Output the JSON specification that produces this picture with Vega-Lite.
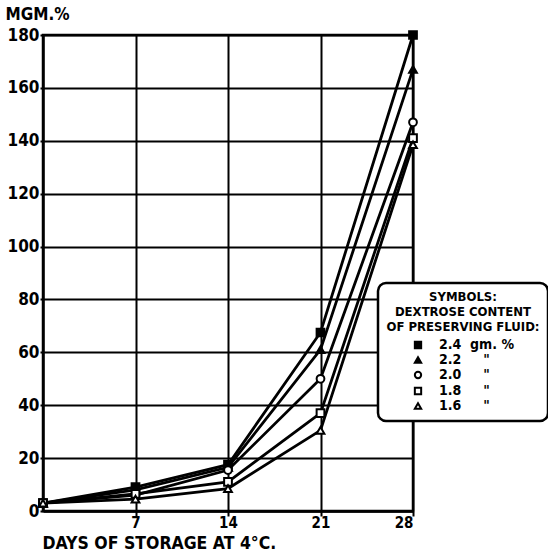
{
  "$schema": "https://vega.github.io/schema/vega-lite/v6.json",
  "width": 370,
  "height": 476,
  "autosize": "none",
  "padding": {"left": 43, "top": 35, "right": 135, "bottom": 41},
  "background": "white",
  "config": {
    "view": {"stroke": "black", "strokeWidth": 2.5},
    "font": "DejaVu Sans Condensed",
    "legend": {"strokeWidth": 2.5}
  },
  "data": {
    "values": [
      {"day": 0, "mgm": 3, "s": "2.4\u00a0\u00a0gm.\u00a0%"},
      {"day": 7, "mgm": 9, "s": "2.4\u00a0\u00a0gm.\u00a0%"},
      {"day": 14, "mgm": 17.5, "s": "2.4\u00a0\u00a0gm.\u00a0%"},
      {"day": 21, "mgm": 67.5, "s": "2.4\u00a0\u00a0gm.\u00a0%"},
      {"day": 28, "mgm": 180, "s": "2.4\u00a0\u00a0gm.\u00a0%"},
      {"day": 0, "mgm": 3, "s": "2.2\u00a0\u00a0\u00a0\u00a0\u00a0\""},
      {"day": 7, "mgm": 8, "s": "2.2\u00a0\u00a0\u00a0\u00a0\u00a0\""},
      {"day": 14, "mgm": 16.5, "s": "2.2\u00a0\u00a0\u00a0\u00a0\u00a0\""},
      {"day": 21, "mgm": 61, "s": "2.2\u00a0\u00a0\u00a0\u00a0\u00a0\""},
      {"day": 28, "mgm": 167, "s": "2.2\u00a0\u00a0\u00a0\u00a0\u00a0\""},
      {"day": 0, "mgm": 3, "s": "2.0\u00a0\u00a0\u00a0\u00a0\u00a0\""},
      {"day": 7, "mgm": 6, "s": "2.0\u00a0\u00a0\u00a0\u00a0\u00a0\""},
      {"day": 14, "mgm": 15.5, "s": "2.0\u00a0\u00a0\u00a0\u00a0\u00a0\""},
      {"day": 21, "mgm": 50, "s": "2.0\u00a0\u00a0\u00a0\u00a0\u00a0\""},
      {"day": 28, "mgm": 147, "s": "2.0\u00a0\u00a0\u00a0\u00a0\u00a0\""},
      {"day": 0, "mgm": 3, "s": "1.8\u00a0\u00a0\u00a0\u00a0\u00a0\""},
      {"day": 7, "mgm": 6.5, "s": "1.8\u00a0\u00a0\u00a0\u00a0\u00a0\""},
      {"day": 14, "mgm": 11, "s": "1.8\u00a0\u00a0\u00a0\u00a0\u00a0\""},
      {"day": 21, "mgm": 37, "s": "1.8\u00a0\u00a0\u00a0\u00a0\u00a0\""},
      {"day": 28, "mgm": 141, "s": "1.8\u00a0\u00a0\u00a0\u00a0\u00a0\""},
      {"day": 0, "mgm": 3, "s": "1.6\u00a0\u00a0\u00a0\u00a0\u00a0\""},
      {"day": 7, "mgm": 4.5, "s": "1.6\u00a0\u00a0\u00a0\u00a0\u00a0\""},
      {"day": 14, "mgm": 8.5, "s": "1.6\u00a0\u00a0\u00a0\u00a0\u00a0\""},
      {"day": 21, "mgm": 30.5, "s": "1.6\u00a0\u00a0\u00a0\u00a0\u00a0\""},
      {"day": 28, "mgm": 138.5, "s": "1.6\u00a0\u00a0\u00a0\u00a0\u00a0\""}
    ]
  },
  "encoding": {
    "x": {
      "field": "day", "type": "quantitative",
      "scale": {"domain": [0, 28], "nice": false, "zero": true},
      "axis": {
        "values": [7, 14, 21, 28],
        "title": "DAYS OF STORAGE AT 4°C.",
        "titleAnchor": "start", "titleAlign": "left", "titleX": -1, "titleY": 32,
        "titleBaseline": "middle",
        "titleFont": "DejaVu Sans Condensed", "titleFontSize": 17.5, "titleFontWeight": "bold", "titleColor": "black",
        "labelFont": "DejaVu Sans Condensed", "labelFontSize": 15, "labelFontWeight": "bold", "labelColor": "black",
        "domainColor": "black", "domainWidth": 2.5,
        "tickColor": "black", "tickWidth": 2, "tickSize": 5,
        "grid": true, "gridColor": "black", "gridWidth": 2, "gridOpacity": 1,
        "labelPadding": -1
      }
    },
    "y": {
      "field": "mgm", "type": "quantitative",
      "scale": {"domain": [0, 180], "nice": false},
      "axis": {
        "values": [0, 20, 40, 60, 80, 100, 120, 140, 160, 180],
        "title": "MGM.%",
        "titleAngle": 0, "titleAlign": "left", "titleAnchor": "start",
        "titleX": -38, "titleY": -21, "titleBaseline": "middle",
        "titleFont": "DejaVu Sans Condensed", "titleFontSize": 17, "titleFontWeight": "bold", "titleColor": "black",
        "labelFont": "DejaVu Sans Condensed", "labelFontSize": 17, "labelFontWeight": "bold", "labelColor": "black",
        "domainColor": "black", "domainWidth": 2.5,
        "tickColor": "black", "tickWidth": 2, "tickSize": 3,
        "grid": true, "gridColor": "black", "gridWidth": 2, "gridOpacity": 1,
        "labelPadding": 1
      }
    }
  },
  "layer": [
    {
      "mark": {"type": "line", "color": "black", "strokeWidth": 2.8},
      "encoding": {"detail": {"field": "s"}}
    },
    {
      "mark": {"type": "point", "size": 60, "opacity": 1, "filled": true, "strokeWidth": 2},
      "encoding": {
        "stroke": {
          "field": "s", "type": "nominal",
          "scale": {
            "domain": ["2.4\u00a0\u00a0gm.\u00a0%", "2.2\u00a0\u00a0\u00a0\u00a0\u00a0\"", "2.0\u00a0\u00a0\u00a0\u00a0\u00a0\"", "1.8\u00a0\u00a0\u00a0\u00a0\u00a0\"", "1.6\u00a0\u00a0\u00a0\u00a0\u00a0\""],
            "range": ["black", "black", "black", "black", "black"]
          },
          "legend": {
            "orient": "none", "legendX": 335, "legendY": 248,
            "title": ["SYMBOLS:", "DEXTROSE CONTENT", "OF PRESERVING FLUID:"],
            "titleAlign": "center", "titleAnchor": "middle",
            "titleFont": "DejaVu Sans Condensed", "titleFontSize": 13, "titleFontWeight": "bold", "titleColor": "black",
            "titleLineHeight": 15, "titlePadding": 4,
            "labelFont": "DejaVu Sans Condensed", "labelFontSize": 14, "labelFontWeight": "bold", "labelColor": "black",
            "strokeColor": "black", "cornerRadius": 8, "fillColor": "white",
            "padding": 8, "rowPadding": 0, "symbolSize": 40, "symbolStrokeWidth": 2,
            "labelOffset": 14, "offset": 0
          }
        },
        "shape": {
          "field": "s", "type": "nominal",
          "scale": {
            "domain": ["2.4\u00a0\u00a0gm.\u00a0%", "2.2\u00a0\u00a0\u00a0\u00a0\u00a0\"", "2.0\u00a0\u00a0\u00a0\u00a0\u00a0\"", "1.8\u00a0\u00a0\u00a0\u00a0\u00a0\"", "1.6\u00a0\u00a0\u00a0\u00a0\u00a0\""],
            "range": ["square", "triangle-up", "circle", "square", "triangle-up"]
          },
          "legend": {
            "orient": "none", "legendX": 335, "legendY": 248,
            "title": ["SYMBOLS:", "DEXTROSE CONTENT", "OF PRESERVING FLUID:"],
            "titleAlign": "center", "titleAnchor": "middle",
            "titleFont": "DejaVu Sans Condensed", "titleFontSize": 13, "titleFontWeight": "bold", "titleColor": "black",
            "titleLineHeight": 15, "titlePadding": 4,
            "labelFont": "DejaVu Sans Condensed", "labelFontSize": 14, "labelFontWeight": "bold", "labelColor": "black",
            "strokeColor": "black", "cornerRadius": 8, "fillColor": "white",
            "padding": 8, "rowPadding": 0, "symbolSize": 40, "symbolStrokeWidth": 2,
            "labelOffset": 14, "offset": 0
          }
        },
        "fill": {
          "field": "s", "type": "nominal",
          "scale": {
            "domain": ["2.4\u00a0\u00a0gm.\u00a0%", "2.2\u00a0\u00a0\u00a0\u00a0\u00a0\"", "2.0\u00a0\u00a0\u00a0\u00a0\u00a0\"", "1.8\u00a0\u00a0\u00a0\u00a0\u00a0\"", "1.6\u00a0\u00a0\u00a0\u00a0\u00a0\""],
            "range": ["black", "black", "white", "white", "white"]
          },
          "legend": {
            "orient": "none", "legendX": 335, "legendY": 248,
            "title": ["SYMBOLS:", "DEXTROSE CONTENT", "OF PRESERVING FLUID:"],
            "titleAlign": "center", "titleAnchor": "middle",
            "titleFont": "DejaVu Sans Condensed", "titleFontSize": 13, "titleFontWeight": "bold", "titleColor": "black",
            "titleLineHeight": 15, "titlePadding": 4,
            "labelFont": "DejaVu Sans Condensed", "labelFontSize": 14, "labelFontWeight": "bold", "labelColor": "black",
            "strokeColor": "black", "cornerRadius": 8, "fillColor": "white",
            "padding": 8, "rowPadding": 0, "symbolSize": 40, "symbolStrokeWidth": 2,
            "labelOffset": 14, "offset": 0
          }
        }
      }
    }
  ]
}
